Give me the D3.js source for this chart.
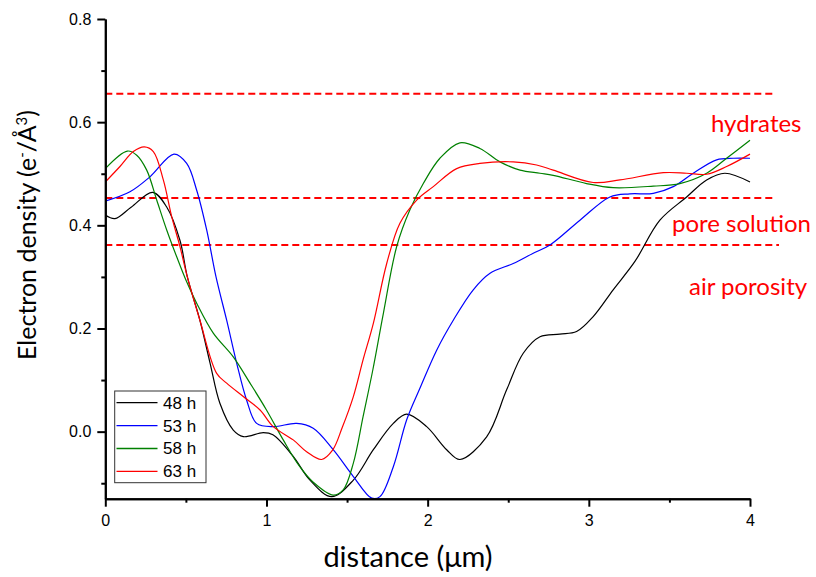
<!DOCTYPE html>
<html><head><meta charset="utf-8">
<script src="https://cdn.jsdelivr.net/npm/d3@7"></script>
<style>body{margin:0;background:#fff}svg{display:block}</style>
</head><body><div id="chart"></div>
<script>
// ---- data ----
const seriesNames = ["48 h", "53 h", "58 h", "63 h"];
const seriesColors = ["#000000", "#0000ff", "#008000", "#ff0000"];
const s48 = [[0,0.42],[0.06,0.413],[0.16,0.435],[0.294,0.464],[0.38,0.436],[0.463,0.371],[0.509,0.30],[0.587,0.216],[0.65,0.133],[0.711,0.055],[0.794,0.003],[0.856,-0.0097],[0.98,-0.002],[1.04,-0.006],[1.166,-0.048],[1.27,-0.094],[1.404,-0.126],[1.539,-0.094],[1.663,-0.035],[1.787,0.016],[1.87,0.034],[1.994,0.0097],[2.118,-0.035],[2.2,-0.054],[2.366,-0.01],[2.49,0.081],[2.593,0.152],[2.697,0.184],[2.82,0.189],[2.924,0.194],[3.027,0.223],[3.151,0.275],[3.286,0.33],[3.441,0.41],[3.607,0.455],[3.731,0.488],[3.844,0.501],[4.0,0.484]];
const s53 = [[0,0.447],[0.153,0.465],[0.277,0.494],[0.426,0.538],[0.505,0.52],[0.567,0.468],[0.629,0.391],[0.687,0.30],[0.753,0.216],[0.815,0.133],[0.877,0.061],[0.939,0.016],[1.042,0.0097],[1.187,0.016],[1.29,0.0066],[1.414,-0.035],[1.539,-0.087],[1.653,-0.129],[1.704,-0.126],[1.787,-0.068],[1.87,0.023],[1.952,0.084],[2.056,0.158],[2.159,0.216],[2.283,0.275],[2.387,0.307],[2.531,0.326],[2.655,0.346],[2.759,0.362],[2.945,0.41],[3.131,0.455],[3.255,0.461],[3.4,0.462],[3.524,0.475],[3.648,0.501],[3.793,0.527],[3.896,0.53],[4.0,0.53]];
const s58 = [[0,0.51],[0.137,0.544],[0.195,0.536],[0.257,0.507],[0.319,0.449],[0.381,0.391],[0.443,0.339],[0.5,0.294],[0.567,0.249],[0.67,0.191],[0.794,0.145],[0.898,0.094],[1.0,0.042],[1.104,-0.016],[1.2,-0.065],[1.29,-0.098],[1.414,-0.123],[1.476,-0.113],[1.539,-0.061],[1.6,0.03],[1.66,0.12],[1.725,0.229],[1.808,0.359],[1.89,0.43],[1.973,0.481],[2.076,0.53],[2.2,0.56],[2.324,0.549],[2.449,0.523],[2.573,0.507],[2.697,0.501],[2.779,0.497],[2.986,0.481],[3.151,0.473],[3.4,0.476],[3.565,0.481],[3.731,0.501],[3.855,0.53],[4.0,0.565]];
const s63 = [[0,0.484],[0.091,0.514],[0.174,0.543],[0.242,0.552],[0.298,0.543],[0.36,0.488],[0.412,0.417],[0.463,0.359],[0.509,0.30],[0.587,0.216],[0.691,0.113],[0.753,0.094],[0.856,0.068],[0.96,0.042],[1.042,0.0097],[1.166,-0.016],[1.249,-0.039],[1.342,-0.054],[1.41,-0.036],[1.47,0.008],[1.539,0.068],[1.6,0.14],[1.663,0.21],[1.746,0.326],[1.828,0.404],[1.932,0.449],[2.035,0.475],[2.18,0.51],[2.324,0.52],[2.531,0.523],[2.676,0.517],[2.779,0.507],[3.027,0.483],[3.193,0.488],[3.462,0.502],[3.607,0.501],[3.731,0.499],[3.855,0.514],[4.0,0.538]];
const seriesData = [s48, s53, s58, s63];
const refLevels = [0.655, 0.453, 0.362];
const refEnds = [4.142, 4.142, 4.18];
const refLabels = ["hydrates", "pore solution", "air porosity"];
const xTicks = [0, 1, 2, 3, 4];
const xMinor = [0.5, 1.5, 2.5, 3.5];
const yTicks = [0.0, 0.2, 0.4, 0.6, 0.8];
const yMinor = [-0.1, 0.1, 0.3, 0.5, 0.7];

// ---- layout ----
const W = 816, H = 577;
const L = 105.3, R = 750, T = 19, B = 498.7;
const svg = d3.select("#chart").append("svg").attr("width", W).attr("height", H);
const x = d3.scaleLinear().domain([0, 4]).range([L, R]);
const y = d3.scaleLinear().domain([-0.13, 0.8]).range([B, T]);
const tickFont = "'Liberation Sans', Arial, sans-serif";
const labFont = "Lato, 'Open Sans', sans-serif";

// reference dashed lines
refLevels.forEach((v, i) => {
  svg.append("line").attr("x1", x(0)).attr("x2", x(refEnds[i]))
    .attr("y1", y(v)).attr("y2", y(v))
    .attr("stroke", "#ff0000").attr("stroke-width", 2).attr("stroke-dasharray", "7,4");
});

// curves
const line = d3.line().x(d => x(d[0])).y(d => y(d[1])).curve(d3.curveCatmullRom.alpha(0.5));
seriesData.forEach((s, i) => {
  svg.append("path").attr("d", line(s)).attr("fill", "none")
    .attr("stroke", seriesColors[i]).attr("stroke-width", 1.2);
});

// axes
function styleAxis(g) {
  g.selectAll("path").attr("stroke", "#000").attr("stroke-width", 2);
  g.selectAll(".tick line").attr("stroke", "#000").attr("stroke-width", 2);
  g.selectAll("text").attr("font-family", tickFont).attr("font-size", 16).attr("fill", "#000");
}
const gx = svg.append("g").attr("transform", `translate(0,${B})`)
  .call(d3.axisBottom(x).tickValues(xTicks).tickFormat(d3.format("d")).tickSize(8).tickSizeOuter(0).tickPadding(8));
styleAxis(gx);
const gxm = svg.append("g").attr("transform", `translate(0,${B})`)
  .call(d3.axisBottom(x).tickValues(xMinor).tickFormat("").tickSize(4).tickSizeOuter(0));
styleAxis(gxm);
const gy = svg.append("g").attr("transform", `translate(${L},0)`)
  .call(d3.axisLeft(y).tickValues(yTicks).tickFormat(d3.format(".1f")).tickSize(8).tickSizeOuter(0).tickPadding(6));
styleAxis(gy);
const gym = svg.append("g").attr("transform", `translate(${L},0)`)
  .call(d3.axisLeft(y).tickValues(yMinor).tickFormat("").tickSize(4).tickSizeOuter(0));
styleAxis(gym);

// axis titles
svg.append("text").attr("x", 408).attr("y", 567).attr("text-anchor", "middle")
  .attr("font-family", labFont).attr("font-size", 29).attr("fill", "#000").text("distance (μm)");
const yl = svg.append("text").attr("transform", "translate(36,235) rotate(-90)").attr("text-anchor", "middle")
  .attr("font-family", labFont).attr("font-size", 25).attr("fill", "#000");
yl.append("tspan").text("Electron density (e");
yl.append("tspan").attr("baseline-shift", "super").attr("font-size", 15).text("-");
yl.append("tspan").text("/Å");
yl.append("tspan").attr("baseline-shift", "super").attr("font-size", 15).text("3");
yl.append("tspan").text(")");

// region labels
const labelPos = [[711, 132], [672, 232], [689, 295]];
refLabels.forEach((t, i) => {
  svg.append("text").attr("x", labelPos[i][0]).attr("y", labelPos[i][1])
    .attr("font-family", labFont).attr("font-size", 24).attr("fill", "#ff0000").text(t);
});

// legend
const lg = svg.append("g");
lg.append("rect").attr("x", 114.7).attr("y", 391).attr("width", 91.3).attr("height", 91.7)
  .attr("fill", "#fff").attr("stroke", "#333").attr("stroke-width", 1);
seriesNames.forEach((n, i) => {
  const yy = 402.7 + i * 22.9;
  lg.append("line").attr("x1", 116.5).attr("x2", 157.5).attr("y1", yy).attr("y2", yy)
    .attr("stroke", seriesColors[i]).attr("stroke-width", 1.3);
  lg.append("text").attr("x", 163).attr("y", yy).attr("dy", "0.35em")
    .attr("font-family", tickFont).attr("font-size", 17).attr("fill", "#000").text(n);
});
</script></body></html>
